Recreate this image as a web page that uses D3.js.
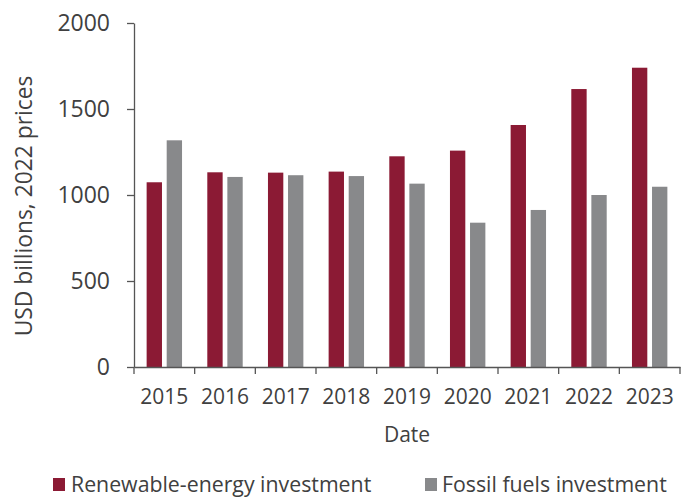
<!DOCTYPE html>
<html>
<head>
<meta charset="utf-8">
<script src="https://cdn.jsdelivr.net/npm/d3@7"></script>
<style>
  body { margin: 0; background: #fff; }
  text { font-family: "Open Sans", sans-serif; fill: #404040; }
</style>
</head>
<body>
<div id="chart"></div>
<script>
// chart data
var years = ["2015", "2016", "2017", "2018", "2019", "2020", "2021", "2022", "2023"];
var renewable = [1074, 1132, 1130, 1136, 1225, 1258, 1407, 1616, 1740];
var fossil = [1318, 1105, 1115, 1110, 1066, 839, 913, 1000, 1048];
var seriesNames = ["Renewable-energy investment", "Fossil fuels investment"];
var seriesColors = ["#8b1a34", "#88898b"];
var yTicks = [0, 500, 1000, 1500, 2000];

var svgWidth = 681;
var svgHeight = 498;

var margin = { top: 23, right: 1, bottom: 131, left: 134 };
var chartWidth = svgWidth - margin.left - margin.right;
var chartHeight = svgHeight - margin.top - margin.bottom;

var svg = d3.select("#chart")
  .append("svg")
  .attr("width", svgWidth)
  .attr("height", svgHeight);

var chartGroup = svg.append("g")
  .attr("transform", `translate(${margin.left}, ${margin.top})`);

// scales
var xScale = d3.scaleBand()
  .domain(years)
  .range([0, chartWidth]);

var xSub = d3.scaleBand()
  .domain([0, 1])
  .range([0, xScale.bandwidth()])
  .paddingInner(0.235)
  .paddingOuter(0.63);

var yScale = d3.scaleLinear()
  .domain([0, 2000])
  .range([chartHeight, 0]);

// bars
var rows = years.map(function(y, i) {
  return { year: y, values: [renewable[i], fossil[i]] };
});

var groups = chartGroup.selectAll(".year")
  .data(rows)
  .enter()
  .append("g")
  .attr("transform", d => `translate(${xScale(d.year)}, 0)`);

groups.selectAll("rect")
  .data(d => d.values.map((v, k) => ({ k: k, v: v })))
  .enter()
  .append("rect")
  .attr("x", d => xSub(d.k))
  .attr("width", xSub.bandwidth())
  .attr("y", d => yScale(d.v))
  .attr("height", d => chartHeight - yScale(d.v))
  .attr("fill", d => seriesColors[d.k]);

// y axis
var leftAxis = d3.axisLeft(yScale)
  .tickValues(yTicks)
  .tickFormat(d3.format("d"))
  .tickSize(7)
  .tickSizeOuter(0)
  .tickPadding(17);

var yAxisG = chartGroup.append("g").call(leftAxis);
yAxisG.select(".domain").attr("stroke", "#555").attr("stroke-width", 1.3);
yAxisG.selectAll(".tick line").attr("stroke", "#555").attr("stroke-width", 1.3);
yAxisG.selectAll("text")
  .style("font-size", "23px")
  .style("font-family", "'Open Sans', sans-serif")
  .attr("fill", "#404040");

// x axis
var bottomAxis = d3.axisBottom(xScale)
  .tickSize(0)
  .tickPadding(22);

var xAxisG = chartGroup.append("g")
  .attr("transform", `translate(0, ${chartHeight})`)
  .call(bottomAxis);
xAxisG.select(".domain").attr("stroke", "#555").attr("stroke-width", 1.3);
xAxisG.selectAll("text")
  .style("font-size", "21px")
  .style("font-family", "'Open Sans', sans-serif")
  .attr("fill", "#404040");

// category boundary ticks
xAxisG.selectAll(".bound")
  .data(years.concat(["end"]))
  .enter()
  .append("line")
  .attr("x1", (d, i) => i * xScale.step())
  .attr("x2", (d, i) => i * xScale.step())
  .attr("y1", 0)
  .attr("y2", 7)
  .attr("stroke", "#555")
  .attr("stroke-width", 1.3);

// axis titles
chartGroup.append("text")
  .attr("transform", "rotate(-90)")
  .attr("x", -183)
  .attr("y", -102)
  .attr("text-anchor", "middle")
  .style("font-size", "22.8px")
  .text("USD billions, 2022 prices");

chartGroup.append("text")
  .attr("x", chartWidth / 2)
  .attr("y", chartHeight + 75)
  .attr("text-anchor", "middle")
  .style("font-size", "21px")
  .text("Date");

// legend
var legendX = [53, 425];
var legend = svg.selectAll(".legend")
  .data(seriesNames)
  .enter()
  .append("g")
  .attr("transform", (d, i) => `translate(${legendX[i]}, 478)`);

legend.append("rect")
  .attr("width", 12)
  .attr("height", 13)
  .attr("fill", (d, i) => seriesColors[i]);

legend.append("text")
  .attr("x", (d, i) => i === 0 ? 18 : 17)
  .attr("y", 14)
  .style("font-size", "21.3px")
  .text(d => d);
</script>
</body>
</html>
